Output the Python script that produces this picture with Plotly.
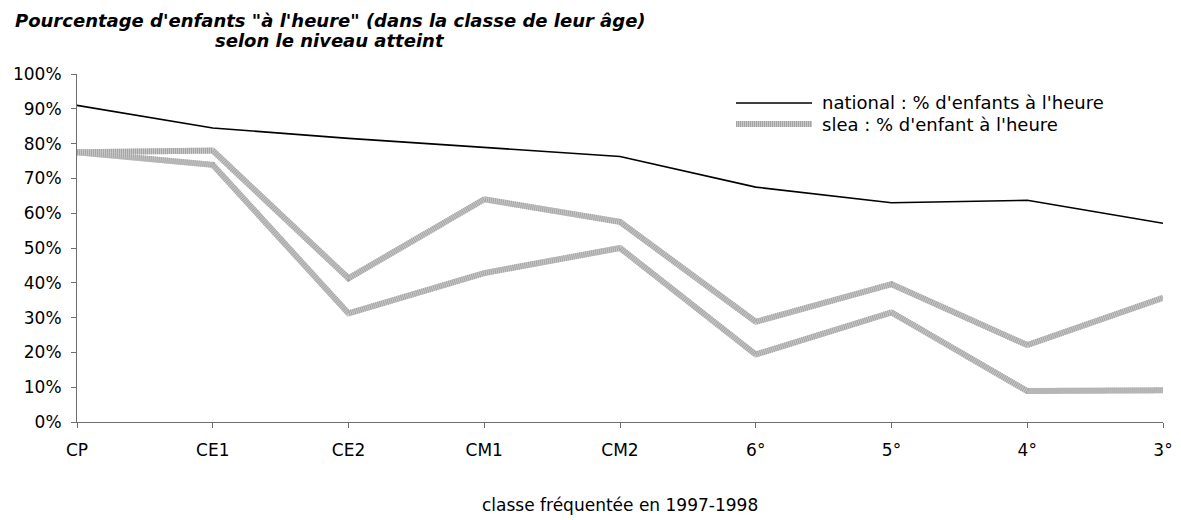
import plotly.graph_objects as go

categories = ["CP", "CE1", "CE2", "CM1", "CM2", "6°", "5°", "4°", "3°"]
national = [0.91, 0.845, 0.815, 0.79, 0.763, 0.675, 0.63, 0.637, 0.571]
slea_a = [0.775, 0.78, 0.413, 0.64, 0.575, 0.288, 0.396, 0.221, 0.357]
slea_b = [0.775, 0.739, 0.312, 0.428, 0.50, 0.194, 0.315, 0.089, 0.091]

legend_names = ["national : % d'enfants à l'heure", "slea : % d'enfant à l'heure"]
title_lines = ["Pourcentage d'enfants \"à l'heure\" (dans la classe de leur âge)",
               "selon le niveau atteint"]
x_title = "classe fréquentée en 1997-1998"

FONT = "DejaVu Sans"
GRAY_BASE = "#c8c8c8"
GRAY_STRIPE = "#a4a4a4"

fig = go.Figure()
for ys in (slea_a, slea_b):
    fig.add_trace(go.Scatter(x=categories, y=ys, mode="lines",
                             line=dict(color=GRAY_BASE, width=6),
                             showlegend=False, hoverinfo="skip"))
    fig.add_trace(go.Scatter(x=categories, y=ys, mode="lines",
                             line=dict(color=GRAY_STRIPE, width=6, dash="1px,1px"),
                             name=legend_names[1], showlegend=False))
fig.add_trace(go.Scatter(x=categories, y=national, mode="lines",
                         line=dict(color="black", width=1.6),
                         name=legend_names[0], showlegend=False))

# manual legend (long line samples as in the original)
fig.add_shape(type="line", xref="paper", yref="paper", x0=0.6068, x1=0.6768,
              y0=0.9167, y1=0.9167, line=dict(color="black", width=1.6))
fig.add_shape(type="line", xref="paper", yref="paper", x0=0.6068, x1=0.6768,
              y0=0.8563, y1=0.8563, line=dict(color=GRAY_BASE, width=6))
fig.add_shape(type="line", xref="paper", yref="paper", x0=0.6068, x1=0.6768,
              y0=0.8563, y1=0.8563, line=dict(color=GRAY_STRIPE, width=6, dash="1px,1px"))
for name, yy in zip(legend_names, (0.9167, 0.8563)):
    fig.add_annotation(text=name, xref="paper", yref="paper", x=0.6842, y=yy,
                       xanchor="left", yanchor="middle", showarrow=False,
                       font=dict(family=FONT, size=18, color="black"))

# two-line title
for line, yy in zip(title_lines, (1.155, 1.095)):
    fig.add_annotation(text=line, xref="paper", yref="paper", x=0.233, y=yy,
                       xanchor="center", yanchor="middle", showarrow=False,
                       font=dict(family=FONT, size=18, weight="bold",
                                 style="italic", color="black"))

# x-axis title
fig.add_annotation(text=x_title, xref="paper", yref="paper", x=0.5, y=-0.2385,
                   xanchor="center", yanchor="middle", showarrow=False,
                   font=dict(family=FONT, size=17, color="black"))

fig.update_layout(
    width=1181, height=520,
    margin=dict(l=77, r=18, t=74, b=98),
    paper_bgcolor="white", plot_bgcolor="white",
    font=dict(family=FONT, size=17, color="black"),
    showlegend=False,
)
fig.update_xaxes(type="category", range=[0, 8], showline=True, linecolor="#6e6e6e",
                 linewidth=1, ticks="outside", ticklen=5, tickcolor="#6e6e6e",
                 showgrid=False, zeroline=False, ticklabelstandoff=8, automargin=False)
fig.update_yaxes(range=[0, 1], tickformat=".0%", dtick=0.1, showline=True,
                 linecolor="#6e6e6e", linewidth=1, ticks="outside", ticklen=5,
                 tickcolor="#6e6e6e", showgrid=False, zeroline=False,
                 ticklabelstandoff=6, automargin=False)

fig.write_html("out.html", config={"displayModeBar": False},
               post_script="document.body.style.margin='0';")
